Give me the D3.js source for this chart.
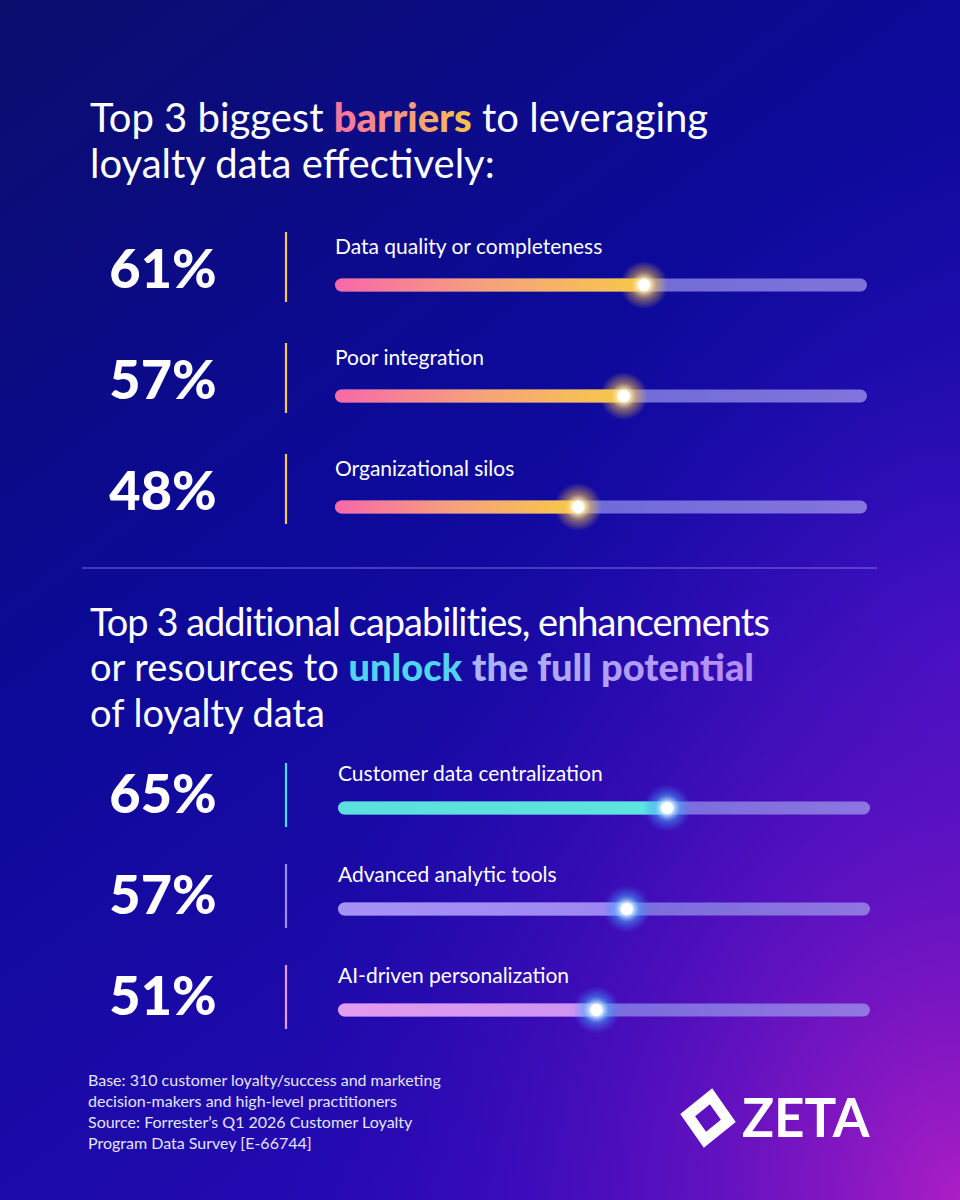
<!DOCTYPE html>
<html>
<head>
<meta charset="utf-8">
<script src="https://cdn.jsdelivr.net/npm/d3@7"></script>
<style>
  body { margin: 0; background: #0a0a80; }
  svg text { font-family: Lato, "Open Sans", sans-serif; white-space: pre; }
</style>
</head>
<body>
<svg id="chart" width="960" height="1200"></svg>
<script>
// data
var barrierLabels = ["Data quality or completeness", "Poor integration", "Organizational silos"];
var barrierValues = [61, 57, 48];
var capabilityLabels = ["Customer data centralization", "Advanced analytic tools", "AI-driven personalization"];
var capabilityValues = [65, 57, 51];
var footnoteLines = [
  "Base: 310 customer loyalty/success and marketing",
  "decision-makers and high-level practitioners",
  "Source: Forrester\u2019s Q1 2026 Customer Loyalty",
  "Program Data Survey [E-66744]"
];

var W = 960, H = 1200;
var svg = d3.select("#chart");
var defs = svg.append("defs");

function linGrad(id, stops, x1, y1, x2, y2){
    var g = defs.append("linearGradient").attr("id", id)
        .attr("x1", x1 || "0%").attr("y1", y1 || "0%")
        .attr("x2", x2 || "100%").attr("y2", y2 || "0%");
    stops.forEach(function(s){
        g.append("stop").attr("offset", s[0]).attr("stop-color", s[1]).attr("stop-opacity", s[2] == null ? 1 : s[2]);
    });
    return g;
}
function radGrad(id, stops, cx, cy, r){
    var g = defs.append("radialGradient").attr("id", id)
        .attr("cx", cx || "50%").attr("cy", cy || "50%").attr("r", r || "50%");
    stops.forEach(function(s){
        g.append("stop").attr("offset", s[0]).attr("stop-color", s[1]).attr("stop-opacity", s[2] == null ? 1 : s[2]);
    });
    return g;
}

// background
linGrad("bg", [["0%", "#0b0d6c"], ["45%", "#0c0a98"], ["100%", "#2a0ab8"]], "0%", "0%", "60%", "100%");
radGrad("bgGlow", [["0%", "#b21fc4", 0.95], ["45%", "#7a14c4", 0.55], ["100%", "#3a0ab8", 0]], "100%", "100%", "70%");
radGrad("bgGlow2", [["0%", "#5a1ad8", 0.5], ["100%", "#2010c0", 0]], "100%", "55%", "45%");
svg.append("rect").attr("width", W).attr("height", H).attr("fill", "url(#bg)");
svg.append("rect").attr("width", W).attr("height", H).attr("fill", "url(#bgGlow2)");
svg.append("rect").attr("width", W).attr("height", H).attr("fill", "url(#bgGlow)");

// text gradients
linGrad("gBarriers", [["0%", "#f7739f"], ["55%", "#f79a7a"], ["100%", "#f6c54a"]]);
linGrad("gPotential", [["0%", "#a9b6f6"], ["100%", "#b78af4"]]);
// bar fills
linGrad("fillWarm", [["0%", "#f868a8"], ["50%", "#f6a27a"], ["100%", "#f7c948"]]);
linGrad("fillTeal", [["0%", "#5ce0dc"], ["100%", "#5ce4de"]]);
linGrad("fillLav", [["0%", "#a792f6"], ["100%", "#9e86f2"]]);
linGrad("fillPink", [["0%", "#e39cef"], ["100%", "#cd93f2"]]);
linGrad("track", [["0%", "#7a80e8", 0.75], ["100%", "#9a8ee8", 0.8]]);
radGrad("glowWarm", [["0%", "#ffffff"], ["25%", "#fff3c0", 0.95], ["55%", "#f6c24a", 0.5], ["100%", "#f6c24a", 0]]);
radGrad("glowBlue", [["0%", "#ffffff"], ["25%", "#d8f0ff", 0.95], ["55%", "#4aa8ff", 0.5], ["100%", "#3a7cff", 0]]);

// rich text line built from segments
function richLine(x, y, segs, size, spacing){
    var cx = x;
    segs.forEach(function(s){
        var t = svg.append("text")
            .attr("x", cx).attr("y", y)
            .attr("font-size", size)
            .attr("font-weight", s.bold ? 900 : 400)
            .attr("letter-spacing", spacing || 0)
            .attr("fill", s.fill || "#ffffff")
            .text(s.t);
        cx += t.node().getComputedTextLength();
    });
}

richLine(90, 132, [{t: "Top 3 biggest "}, {t: "barriers", bold: true, fill: "url(#gBarriers)"}, {t: " to leveraging"}], 40);
richLine(90, 178, [{t: "loyalty data effectively:"}], 40);

richLine(90, 636, [{t: "Top 3 additional capabilities, enhancements"}], 38, -1);
richLine(90, 681, [{t: "or resources to "}, {t: "unlock", bold: true, fill: "#52d4f0"}, {t: " "}, {t: "the full potential", bold: true, fill: "url(#gPotential)"}], 38);
richLine(90, 727, [{t: "of loyalty data"}], 38);

// divider
svg.append("line").attr("x1", 82).attr("x2", 877).attr("y1", 568).attr("y2", 568)
    .attr("stroke", "#8f7cf2").attr("stroke-width", 1.2).attr("opacity", 0.85);

// bar scale
var x = d3.scaleLinear().domain([0, 105]).range([0, 532]);

function drawSection(labels, values, opts){
    var g = svg.append("g").attr("transform", "translate(0," + opts.top + ")");
    var y = d3.scaleBand().domain(d3.range(labels.length)).range([0, opts.step * labels.length]);
    var rows = g.selectAll(".row").data(values).enter().append("g")
        .attr("class", "row")
        .attr("transform", function(d, i){ return "translate(0," + y(i) + ")"; });

    rows.append("text")
        .attr("x", 163).attr("y", opts.pctY)
        .attr("text-anchor", "middle")
        .attr("font-size", 54).attr("font-weight", 900)
        .attr("fill", "#ffffff")
        .text(function(d){ return d + "%"; });

    rows.append("line")
        .attr("x1", 286).attr("x2", 286)
        .attr("y1", 0).attr("y2", opts.lineH)
        .attr("stroke", function(d, i){ return opts.lineColors[i]; })
        .attr("stroke-width", 2.2);

    rows.append("text")
        .attr("x", opts.barX).attr("y", opts.labelY)
        .attr("font-size", 21).attr("fill", "#ffffff")
        .text(function(d, i){ return labels[i]; });

    var bh = 13;
    rows.append("rect")
        .attr("x", opts.barX).attr("y", opts.barY - bh / 2)
        .attr("width", x(105)).attr("height", bh).attr("rx", bh / 2)
        .attr("fill", "url(#track)");

    rows.append("rect")
        .attr("x", opts.barX).attr("y", opts.barY - bh / 2)
        .attr("width", function(d){ return x(d); }).attr("height", bh).attr("rx", bh / 2)
        .attr("fill", function(d, i){ return opts.fills[i]; });

    rows.append("circle")
        .attr("cx", function(d){ return opts.barX + x(d); }).attr("cy", opts.barY)
        .attr("r", 24).attr("fill", opts.glow);
    rows.append("circle")
        .attr("cx", function(d){ return opts.barX + x(d); }).attr("cy", opts.barY)
        .attr("r", 6).attr("fill", "#ffffff");
}

drawSection(barrierLabels, barrierValues, {
    top: 232, step: 111, pctY: 56, lineH: 70, labelY: 22, barY: 53, barX: 335,
    lineColors: ["#f2c94c", "#f2c94c", "#f2c94c"],
    fills: ["url(#fillWarm)", "url(#fillWarm)", "url(#fillWarm)"],
    glow: "url(#glowWarm)"
});

drawSection(capabilityLabels, capabilityValues, {
    top: 763, step: 101, pctY: 50, lineH: 64, labelY: 18, barY: 45, barX: 338,
    lineColors: ["#4fd8e6", "#9c8cf2", "#e29be8"],
    fills: ["url(#fillTeal)", "url(#fillLav)", "url(#fillPink)"],
    glow: "url(#glowBlue)"
});

// footnote
svg.append("g").selectAll("text").data(footnoteLines).enter().append("text")
    .attr("x", 88).attr("y", function(d, i){ return 1086 + i * 21; })
    .attr("font-size", 16).attr("fill", "#e4e4f6")
    .text(function(d){ return d; });

// logo
var logo = svg.append("g").attr("transform", "translate(708,1118)");
logo.append("path")
    .attr("d", "M0,-30 L28,0 L0,30 L-28,0 Z M0,-14 L-13,0 L0,14 L13,0 Z")
    .attr("fill", "#ffffff").attr("fill-rule", "evenodd")
    .attr("transform", "rotate(8)");
svg.append("text")
    .attr("x", 742).attr("y", 1137)
    .attr("font-size", 53).attr("font-weight", 700)
    .attr("fill", "#ffffff")
    .text("ZETA");
</script>
</body>
</html>
